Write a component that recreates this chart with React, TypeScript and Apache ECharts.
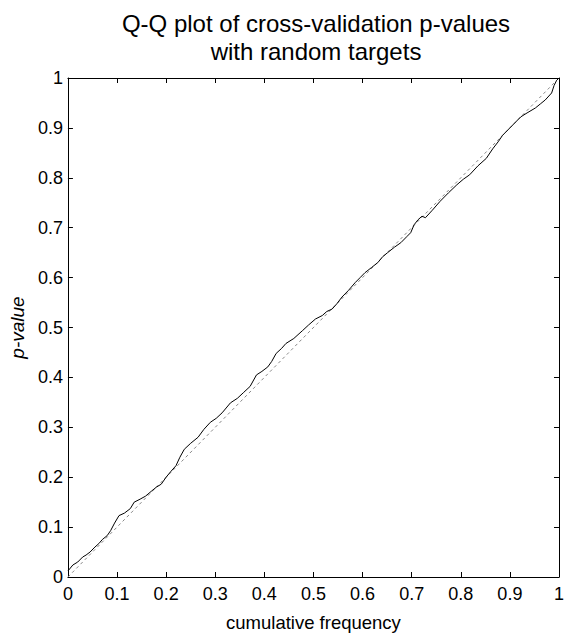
import React, { useEffect, useRef } from "react";
import * as echarts from "echarts";

const titleLines = ["Q-Q plot of cross-validation p-values", "with random targets"];
const xAxisName = "cumulative frequency";
const yAxisName = "p-value";

// empirical Q-Q curve: [cumulative frequency, p-value]
const qqCurve: [number, number][] = [
  [0, 0.012], [0.01, 0.024], [0.02, 0.03], [0.03, 0.04], [0.037, 0.044],
  [0.045, 0.05], [0.055, 0.06], [0.063, 0.067], [0.07, 0.075], [0.08, 0.083],
  [0.087, 0.093], [0.095, 0.108], [0.104, 0.123], [0.115, 0.128], [0.127, 0.137],
  [0.135, 0.15], [0.147, 0.156], [0.158, 0.162], [0.17, 0.172], [0.18, 0.18],
  [0.19, 0.186], [0.2, 0.2], [0.21, 0.212], [0.22, 0.223], [0.228, 0.24],
  [0.237, 0.256], [0.25, 0.268], [0.265, 0.28], [0.277, 0.296], [0.29, 0.31],
  [0.302, 0.318], [0.314, 0.329], [0.331, 0.349], [0.345, 0.358], [0.358, 0.37],
  [0.371, 0.382], [0.384, 0.405], [0.395, 0.412], [0.407, 0.421], [0.415, 0.432],
  [0.424, 0.448], [0.435, 0.458], [0.444, 0.468], [0.46, 0.478], [0.478, 0.494],
  [0.49, 0.505], [0.504, 0.517], [0.518, 0.524], [0.527, 0.532], [0.538, 0.537],
  [0.548, 0.548], [0.558, 0.561], [0.571, 0.574], [0.585, 0.59], [0.595, 0.6],
  [0.605, 0.61], [0.618, 0.62], [0.631, 0.63], [0.641, 0.642], [0.651, 0.65],
  [0.665, 0.661], [0.678, 0.67], [0.69, 0.682], [0.698, 0.69], [0.705, 0.706],
  [0.713, 0.716], [0.721, 0.723], [0.728, 0.72], [0.742, 0.735], [0.758, 0.753],
  [0.775, 0.77], [0.792, 0.786], [0.805, 0.797], [0.818, 0.806], [0.835, 0.824],
  [0.852, 0.839], [0.865, 0.858], [0.876, 0.872], [0.885, 0.885], [0.9, 0.9],
  [0.912, 0.912], [0.922, 0.922], [0.935, 0.93], [0.952, 0.94], [0.962, 0.948],
  [0.972, 0.956], [0.985, 0.97], [0.99, 0.985], [0.995, 0.995], [1, 1],
];

// reference diagonal (uniform distribution)
const diagonal: [number, number][] = [[0, 0], [1, 1]];

const axisMin = 0;
const axisMax = 1;
const axisStep = 0.1;

const FONT = "'Liberation Sans', Arial, Helvetica, sans-serif";

export default function App() {
  const ref = useRef<HTMLDivElement>(null);
  useEffect(() => {
    if (!ref.current) return;
    const chart = echarts.init(ref.current, null, { renderer: "svg" });
    const fmt = (v: number) => String(+v.toFixed(1));
    const axisLine = { show: true, onZero: false, lineStyle: { color: "#000", width: 1 } };
    const axisTick = { show: true, inside: true, length: 5, lineStyle: { color: "#000", width: 1 } };
    const base = {
      type: "value" as const,
      min: axisMin,
      max: axisMax,
      interval: axisStep,
      splitLine: { show: false },
      axisLine,
      axisTick,
    };
    chart.setOption({
      animation: false,
      backgroundColor: "#fff",
      textStyle: { fontFamily: FONT },
      title: {
        text: titleLines.join("\n"),
        left: 311,
        top: 4,
        textAlign: "center",
        textStyle: {
          fontFamily: FONT,
          fontSize: 24,
          fontWeight: "normal",
          color: "#000",
          lineHeight: 28,
        },
      },
      grid: { left: 65, right: 3, top: 78, bottom: 55 },
      xAxis: [
        {
          ...base,
          position: "bottom",
          name: xAxisName,
          nameLocation: "middle",
          nameGap: 36,
          nameTextStyle: { fontFamily: FONT, fontSize: 18.5, color: "#000" },
          axisLabel: { formatter: fmt, fontFamily: FONT, fontSize: 18, color: "#000", margin: 8 },
        },
        {
          ...base,
          position: "top",
          axisLabel: { show: false },
        },
      ],
      yAxis: [
        {
          ...base,
          position: "left",
          name: yAxisName,
          nameLocation: "middle",
          nameGap: 40,
          nameTextStyle: { fontFamily: FONT, fontSize: 19, fontStyle: "italic", color: "#000" },
          axisLabel: { formatter: fmt, fontFamily: FONT, fontSize: 18, color: "#000", margin: 5 },
        },
        {
          ...base,
          position: "right",
          axisLabel: { show: false },
        },
      ],
      series: [
        {
          type: "line",
          data: diagonal,
          symbol: "none",
          silent: true,
          lineStyle: { color: "#888", width: 1, type: [3, 3] },
          z: 1,
        },
        {
          type: "line",
          data: qqCurve,
          symbol: "none",
          silent: true,
          lineStyle: { color: "#000", width: 1 },
          z: 2,
        },
      ],
    });
    return () => chart.dispose();
  }, []);
  return (
    <div
      ref={ref}
      style={{ position: "absolute", left: 0, top: 0, width: 567, height: 637 }}
    />
  );
}
